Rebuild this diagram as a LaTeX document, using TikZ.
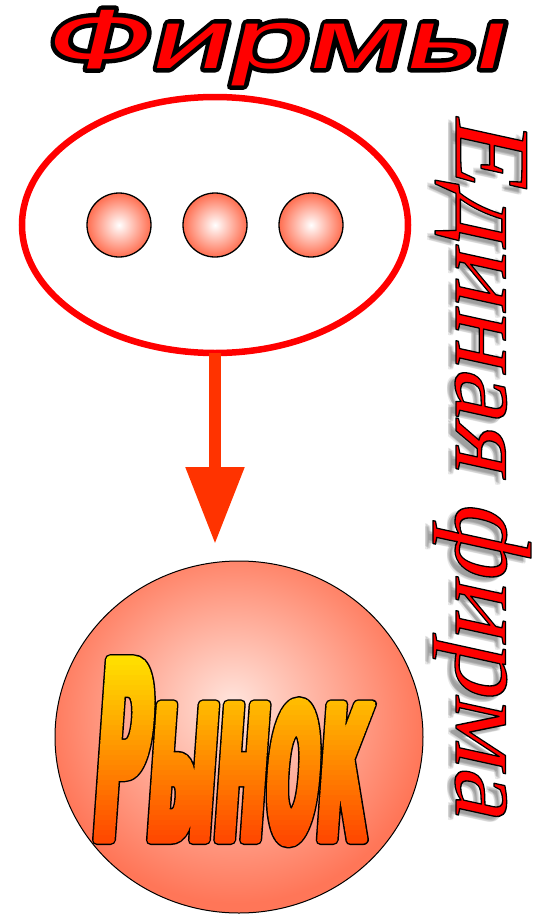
\documentclass[tikz,border=0pt]{standalone}
\usepackage{fontspec}
\usetikzlibrary{shapes.geometric,arrows.meta}
\newfontfamily\firmfont[FakeStretch=1.68]{Liberation Sans}
\newfontfamily\edfont[FakeStretch=1.07]{Liberation Serif}
\newfontfamily\rynfont[FakeStretch=0.30]{DejaVu Sans Bold}
\newcommand\trreset{\special{pdf:literal direct 0 Tr}}
\definecolor{arrowc}{RGB}{255,51,0}
\definecolor{ballout}{RGB}{255,110,80}
\definecolor{bigout}{RGB}{255,118,88}
\definecolor{bigin}{RGB}{255,228,220}
\pgfdeclareradialshading{ballsh}{\pgfpoint{0bp}{0bp}}{color(0bp)=(white); color(25bp)=(ballout); color(50bp)=(ballout)}
\pgfdeclareradialshading{bigsh}{\pgfpoint{-1bp}{5bp}}{color(0bp)=(bigin); color(26bp)=(bigout); color(50bp)=(bigout)}
\tikzset{
  ball/.style={circle, draw=black, line width=1.3pt, minimum size=64pt, inner sep=0pt, shading=ballsh},
  firmtext/.style={anchor=base west, inner sep=0pt, transform shape, font=\firmfont\fontsize{84}{84}\selectfont},
  edtext/.style={anchor=base west, inner sep=0pt, transform shape, font=\edfont\fontsize{108}{108}\selectfont},
  ryntext/.style={anchor=base west, inner sep=0pt, transform shape, font=\rynfont\fontsize{248}{248}\selectfont},
}
\begin{document}
\begin{tikzpicture}[x=1pt,y=-1pt]
\useasboundingbox (0,0) rectangle (539,916);
% firms ellipse and balls
\node[ellipse, draw=red, line width=6.5pt, minimum width=386pt, minimum height=256pt, outer sep=0pt, inner sep=0pt] (firms) at (215,225) {};
\node[ball] (b1) at (119,225) {};
\node[ball] (b2) at (215,225) {};
\node[ball] (b3) at (311,225) {};
% market circle
\node[ellipse, draw=black, line width=1pt, minimum width=368pt, minimum height=352pt, inner sep=0pt, outer sep=0pt, shading=bigsh] (market) at (239,737) {};
% arrow
\coordinate (arrowEnd) at (firms.south |- market.north);
\draw[arrowc, line width=12pt, -{Triangle[width=56pt,length=77pt]}, shorten >=17pt] (firms.south) -- (arrowEnd);
% title
\begin{scope}[shift={(40,68)}, xslant=0.24]
\node[firmtext] (firmsOut) at (0,0) {\special{pdf:literal direct 0 0 0 rg 0 0 0 RG 2 Tr 9 w 1 j}Фирмы\trreset};
\node[firmtext, text=red] (firmsLabel) at (0,0) {Фирмы};
\end{scope}
% vertical text with shadow
\foreach \dx/\dy [count=\k] in {-7/4,-6/6,-8/6,-5/5,-8/3}{
  \begin{scope}[shift={(456+\dx,113+\dy)}, rotate=-90, xslant=0.22]
  \node[edtext, text=black, text opacity=0.09] (edsh\k) at (0,0) {Единая фирма};
  \end{scope}
}
\begin{scope}[shift={(456,113)}, rotate=-90, xslant=0.22]
\node[edtext, text=red] (edLabel) at (0,0) {\special{pdf:literal direct 0 0 0 RG 2 Tr 1.3 w 1 j}Единая фирма\trreset};
\end{scope}
% market word
\begin{scope}[shift={(90,840)}, xslant=0.07]
\node[ryntext] (rynOut) at (0,0) {\special{pdf:literal direct 0 0 0 rg 0 0 0 RG 2 Tr 10 w 1 j}Рынок\trreset};
\end{scope}
\foreach \i in {0,...,40}{
  \pgfmathsetmacro\ya{645+5*\i}
  \pgfmathsetmacro\tt{min(max((\ya+2.5-650)/195,0),1)}
  \pgfmathtruncatemacro\gg{\tt<0.5 ? 232-164*\tt : 150-164*(\tt-0.5)}
  \definecolor{bandc}{RGB}{255,\gg,0}
  \begin{scope}
    \clip (0,\ya) rectangle (539,\ya+5.6);
    \begin{scope}[shift={(90,840)}, xslant=0.07]
    \node[ryntext, text=bandc] (ryn\i) at (0,0) {\special{pdf:literal direct 2 Tr 7 w 1 j}Рынок\trreset};
    \end{scope}
  \end{scope}
}
\end{tikzpicture}
\end{document}
